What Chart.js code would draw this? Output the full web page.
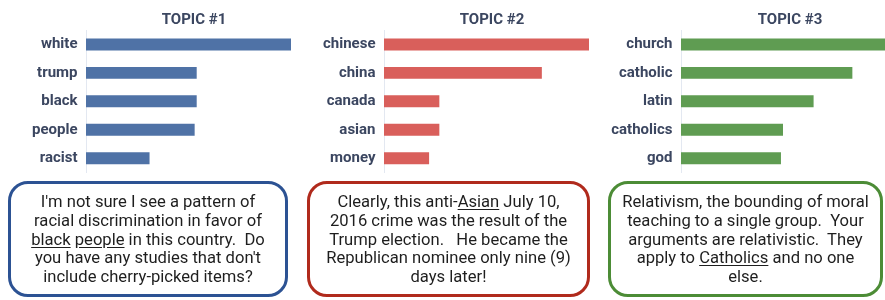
<!DOCTYPE html>
<html>
<head>
<meta charset="utf-8">
<script src="https://cdn.jsdelivr.net/npm/chart.js@4.4.1/dist/chart.umd.min.js"></script>
<style>
  body { margin: 0; background: #fff; width: 885px; height: 300px; overflow: hidden; position: relative; font-family: Roboto, sans-serif; }
  canvas { position: absolute; top: 0; }
  .title { position: absolute; top: 10px; width: 120px; text-align: center; font: bold 15px Roboto, sans-serif; color: #3b4660; }
  .box { position: absolute; top: 181px; height: 110px; box-sizing: content-box; border: 3px solid; border-radius: 20px;
         display: flex; align-items: center; justify-content: center; text-align: center;
         font-size: 16.6px; line-height: 18.7px; color: #1e1e1e; padding-top: 2px; }
  .box u { text-underline-offset: 2px; }
</style>
</head>
<body>
<canvas id="chart1" width="295" height="190" style="left:0px"></canvas>
<canvas id="chart2" width="295" height="190" style="left:295px"></canvas>
<canvas id="chart3" width="295" height="190" style="left:590px"></canvas>

<div class="title" style="left:134px">TOPIC #1</div>
<div class="title" style="left:432px">TOPIC #2</div>
<div class="title" style="left:730px">TOPIC #3</div>

<div class="box" style="left:8px; width:274px; height:108px; border-color:#2c5293;">
  <div>I'm not sure I see a pattern of<br>racial discrimination in favor of<br><u>black</u> <u>people</u> in this country.&nbsp; Do<br>you have any studies that don't<br>include cherry-picked items?</div>
</div>
<div class="box" style="left:307px; width:277px; height:108px; border-color:#b02a1c;">
  <div>Clearly, this anti-<u>Asian</u> July 10,<br>2016 crime was the result of the<br>Trump election.&nbsp;&nbsp; He became the<br>Republican nominee only nine (9)<br>days later!</div>
</div>
<div class="box" style="left:608px; width:269px; height:108px; border-color:#4c8c36;">
  <div>Relativism, the bounding of moral<br>teaching to a single group.&nbsp; Your<br>arguments are relativistic.&nbsp; They<br>apply to <u>Catholics</u> and no one<br>else.</div>
</div>

<script>
'use strict';

// topic words and their relative weights (longest bar = 100)
var topic1Words = ['white', 'trump', 'black', 'people', 'racist'];
var topic1Values = [100, 54, 54, 53, 31];

var topic2Words = ['chinese', 'china', 'canada', 'asian', 'money'];
var topic2Values = [100, 77, 27, 27, 22];

var topic3Words = ['church', 'catholic', 'latin', 'catholics', 'god'];
var topic3Values = [100, 84, 65, 50, 49];

function renderTopic(canvasId, words, values, color, axisWidth, rightPad) {
    var ctx = document.getElementById(canvasId).getContext('2d');

    return new Chart(ctx, {
        type: 'bar',
        data: {
            labels: words,
            datasets: [{
                data: values,
                backgroundColor: color,
                borderWidth: 0,
                barPercentage: 0.42,
                categoryPercentage: 1
            }]
        },
        options: {
            indexAxis: 'y',
            responsive: false,
            animation: false,
            layout: { padding: { top: 30.2, bottom: 4.8, left: 0, right: rightPad } },
            plugins: { legend: { display: false }, tooltip: { enabled: false } },
            scales: {
                x: { display: false, min: 0, max: 100 },
                y: {
                    grid: { display: false, drawTicks: false },
                    border: { display: true, color: '#e3e8f1', width: 1 },
                    ticks: {
                        padding: 8.5,
                        color: '#3b4660',
                        font: { family: 'Roboto', weight: 'bold', size: 15 }
                    },
                    afterFit: function(scale) {
                        scale.width = axisWidth;
                    }
                }
            }
        }
    });
}

renderTopic('chart1', topic1Words, topic1Values, '#4f72a6', 86, 4);
renderTopic('chart2', topic2Words, topic2Values, '#d95f5b', 89, 1);
renderTopic('chart3', topic3Words, topic3Values, '#5f9c52', 91, 0);
</script>
</body>
</html>
